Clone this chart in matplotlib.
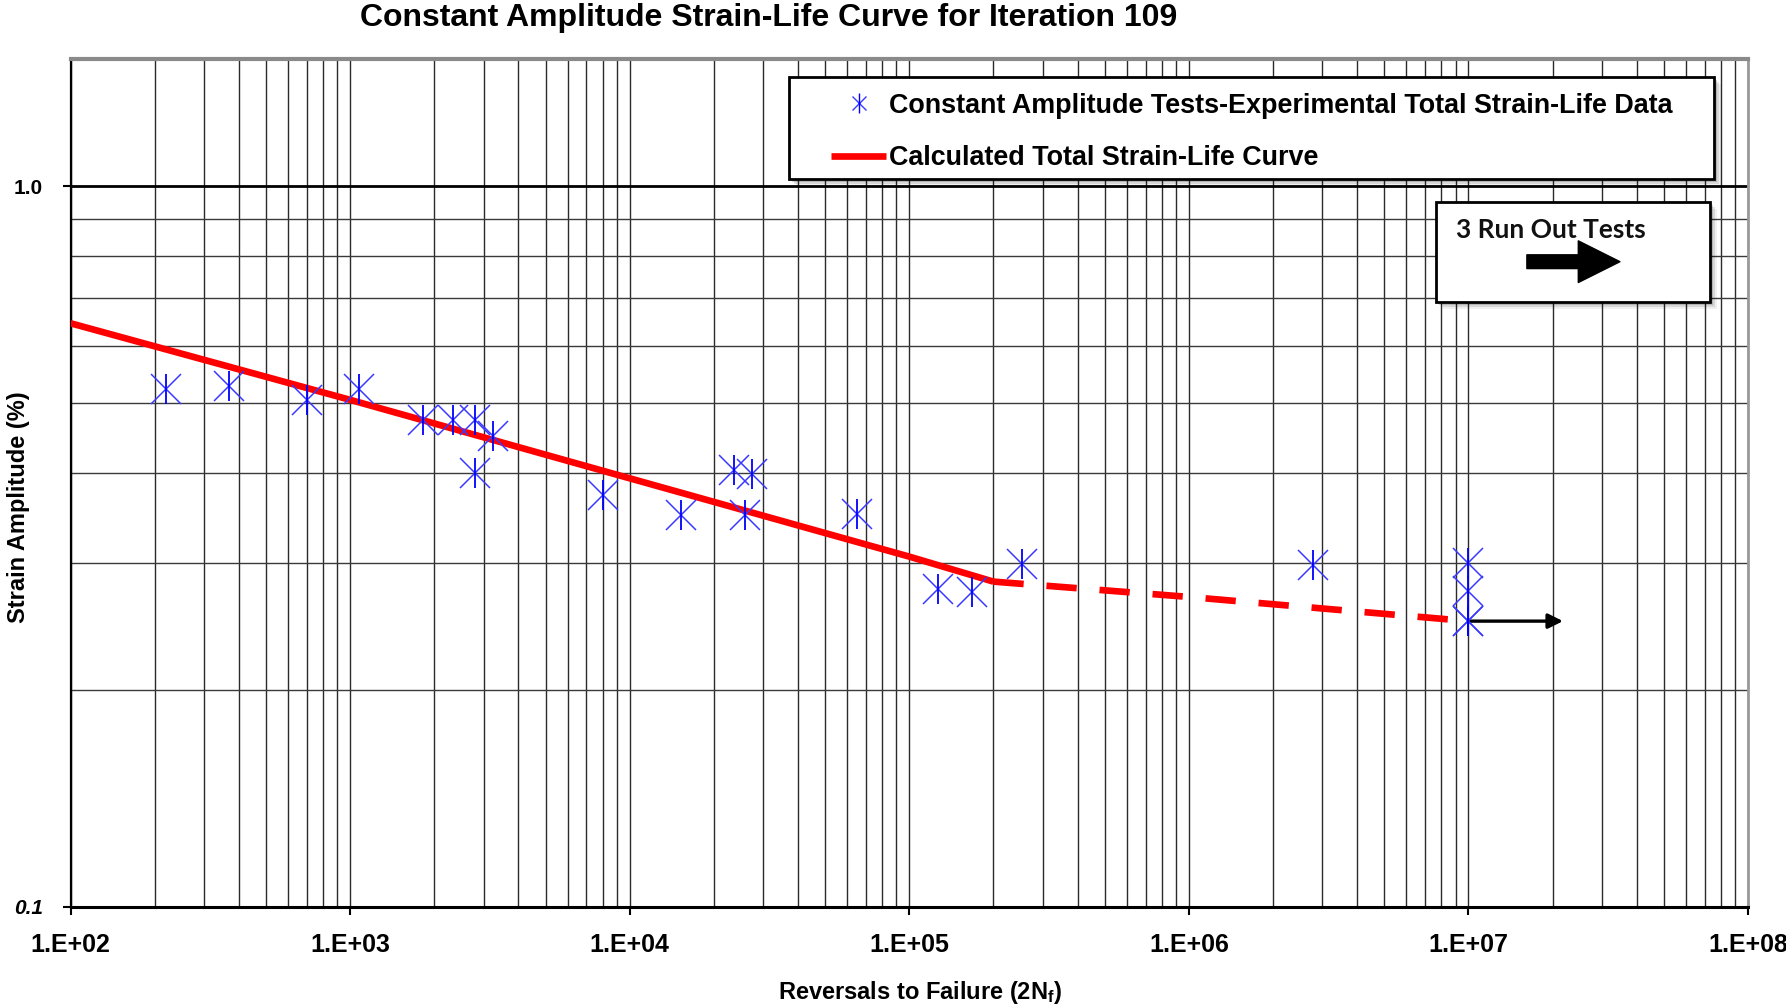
import matplotlib
matplotlib.use("Agg")
import matplotlib.pyplot as plt
import matplotlib.ticker as mticker
import matplotlib.transforms as mtransforms
from matplotlib.lines import Line2D
from matplotlib.patches import Rectangle
from matplotlib.legend_handler import HandlerTuple

# ── Data ──────────────────────────────────────────────────────────────────────
test_reversals = [220, 370, 700, 1080, 1830, 2340, 2800, 3250, 2800, 8000,
                  15300, 23700, 27300, 25800, 65000, 127000, 168000, 254000,
                  2780000]
test_strain    = [0.523, 0.528, 0.505, 0.523, 0.474, 0.474, 0.474, 0.450, 0.400,
                  0.373, 0.349, 0.404, 0.398, 0.350, 0.351, 0.276, 0.273, 0.299,
                  0.298]

runout_reversals = [1e7, 1e7, 1e7, 1e7]
runout_strain    = [0.300, 0.274, 0.249, 0.249]
runout_arrow_end = 2.18e7

curve_reversals = [100, 1000, 10000, 100000, 200000]
curve_strain    = [0.645, 0.505, 0.393, 0.306, 0.2825]

dash_reversals = [200000, 1000000, 10000000]
dash_strain    = [0.2825, 0.269, 0.249]

x_ticks  = [1e2, 1e3, 1e4, 1e5, 1e6, 1e7, 1e8]
x_labels = ["1.E+02", "1.E+03", "1.E+04", "1.E+05", "1.E+06", "1.E+07", "1.E+08"]
y_ticks  = [0.1, 1.0]
y_labels = ["0.1", "1.0"]
y_minor  = [0.2, 0.3, 0.4, 0.5, 0.6, 0.7, 0.8, 0.9]

narrow = ["Liberation Sans Narrow", "Liberation Sans", "DejaVu Sans"]
plt.rcParams["mathtext.fontset"] = "custom"
plt.rcParams["mathtext.rm"] = "Liberation Sans:bold"
plt.rcParams["mathtext.it"] = "Liberation Sans:bold:italic"

# ── Figure ────────────────────────────────────────────────────────────────────
fig = plt.figure(figsize=(17.86, 10.06), dpi=100)
ax = fig.add_axes([0.0395, 0.0988, 0.9392, 0.8424])
ax.set_xscale("log")
ax.set_yscale("log")
ax.set_xlim(1e2, 1e8)
ax.set_ylim(0.1, 1.5)

# grid
ax.xaxis.set_major_locator(mticker.FixedLocator(x_ticks))
ax.xaxis.set_minor_locator(mticker.LogLocator(base=10, subs=range(2, 10)))
ax.yaxis.set_major_locator(mticker.FixedLocator(y_ticks))
ax.yaxis.set_minor_locator(mticker.FixedLocator(y_minor))
ax.xaxis.set_minor_formatter(mticker.NullFormatter())
ax.yaxis.set_minor_formatter(mticker.NullFormatter())
ax.grid(True, which="both", axis="x", color="#2a2a2a", lw=1.0)
ax.grid(True, which="minor", axis="y", color="#3a3a3a", lw=1.0)
ax.axhline(1.0, color="black", lw=2.0, zorder=1)
ax.set_axisbelow(True)

ax.set_xticks(x_ticks)
ax.set_xticklabels(x_labels, family=narrow, weight="bold", fontsize=18)
ax.set_yticks(y_ticks)
ax.set_yticklabels(y_labels, family="Liberation Sans", weight="bold", fontsize=15)
ax.get_yticklabels()[0].set_style("italic")
ax.tick_params(which="major", axis="x", length=6, width=1.5, pad=13, direction="out")
ax.tick_params(which="major", axis="y", length=6, width=1.5, pad=14, direction="out")
ax.tick_params(which="minor", length=0)

for side, c, w in [("bottom", "black", 2.2), ("left", "black", 1.6),
                   ("top", "#8a8a8a", 3.0), ("right", "#9a9a9a", 2.0)]:
    ax.spines[side].set_color(c)
    ax.spines[side].set_linewidth(w)

# ── Marks ─────────────────────────────────────────────────────────────────────
ax.plot(curve_reversals, curve_strain, color="#FF0000", lw=4.8,
        solid_capstyle="butt", zorder=3)
ax.plot(dash_reversals, dash_strain, color="#FF0000", lw=4.8,
        linestyle=(0, (4.55, 3.43)), zorder=3)

ax.annotate("", xy=(runout_arrow_end, runout_strain[-1]),
            xytext=(runout_reversals[-1], runout_strain[-1]),
            arrowprops=dict(arrowstyle="-|>", color="black", lw=2.4,
                            mutation_scale=22, shrinkA=0, shrinkB=0), zorder=4)

all_x = test_reversals + runout_reversals
all_y = test_strain + runout_strain
ax.plot(all_x, all_y, ls="none", marker="x", ms=21, mew=1.1,
        color="#3a3aff", zorder=5)
ax.plot(all_x, all_y, ls="none", marker="|", ms=21, mew=1.3,
        color="#0000ff", zorder=5)


# ── Boxes (legend frame and run-out note) ─────────────────────────────────────
def framed_box(x0, y0, x1, y1):
    for off, a in [(7, 0.06), (5, 0.10), (3, 0.16)]:
        tr = mtransforms.offset_copy(ax.transAxes, fig=fig, x=off, y=-off,
                                     units="dots")
        ax.add_patch(Rectangle((x0, y0), x1 - x0, y1 - y0, transform=tr,
                               facecolor="black", edgecolor="none", alpha=a,
                               zorder=6, clip_on=False))
    ax.add_patch(Rectangle((x0, y0), x1 - x0, y1 - y0, transform=ax.transAxes,
                           facecolor="white", edgecolor="black", lw=2.0,
                           zorder=7, clip_on=False))


framed_box(0.4283, 0.8586, 0.9797, 0.9784)
framed_box(0.8143, 0.7137, 0.9772, 0.8320)

h_star = (Line2D([], [], ls="none", marker="x", ms=10, mew=1.0, color="#3a3aff"),
          Line2D([], [], ls="none", marker="|", ms=14, mew=1.0, color="#0000ff"))
h_line = Line2D([], [], color="#FF0000", lw=4.8, solid_capstyle="butt")
leg = ax.legend([h_star, h_line],
                ["Constant Amplitude Tests-Experimental Total Strain-Life Data",
                 "Calculated Total Strain-Life Curve"],
                handler_map={tuple: HandlerTuple(ndivide=1, pad=0)},
                loc="center left", bbox_to_anchor=(0.4533, 0.9143),
                bbox_transform=ax.transAxes, frameon=False, borderpad=0,
                borderaxespad=0, handlelength=2.05, handletextpad=0.12,
                labelspacing=0.98,
                prop=dict(family="Liberation Sans", weight="bold", size=19.4))
leg.set_zorder(8)

ax.text(0.8259, 0.798, "3 Run Out Tests", transform=ax.transAxes,
        ha="left", va="center", fontsize=19, family=["Lato", "DejaVu Sans"],
        weight="bold", color="#111111", zorder=8)
ax.annotate("", xy=(0.9237, 0.7610), xytext=(0.8682, 0.7610),
            xycoords="axes fraction", textcoords="axes fraction",
            arrowprops=dict(arrowstyle="simple,head_length=1.0,head_width=1.0,tail_width=0.33",
                            color="black", mutation_scale=30, shrinkA=0, shrinkB=0),
            zorder=8)

# ── Titles ────────────────────────────────────────────────────────────────────
fig.text(0.4306, 0.982, "Constant Amplitude Strain-Life Curve for Iteration 109",
         ha="center", va="center", family=narrow, weight="bold", fontsize=23)
fig.text(0.515, 0.0139, "Reversals to Failure (2N$_{\\mathrm{f}}$)", ha="center",
         va="center", family=narrow, weight="bold", fontsize=17)
fig.text(0.0101, 0.496, "Strain Amplitude (%)", ha="center", va="center",
         rotation=90, family=narrow, weight="bold", fontsize=17)

fig.savefig("out.png", dpi=100)
